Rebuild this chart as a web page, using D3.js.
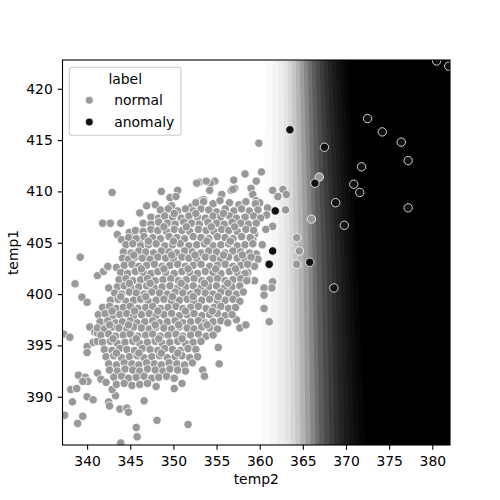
<!DOCTYPE html>
<html>
<head>
<meta charset="utf-8">
<script src="https://cdn.jsdelivr.net/npm/d3@7"></script>
<style>
body { margin: 0; background: #fff; }
svg text { font-family: "DejaVu Sans", sans-serif; fill: #000; }
</style>
</head>
<body>
<svg id="chart" width="500" height="500"></svg>
<script>
// points: [temp2, temp1]
const normalPoints = [
  // sparse, left and bottom
  [337.3,396.1],[338.0,395.8],[340.3,396.8],[340.9,396.3],[340.0,394.9],[340.7,395.3],[341.2,395.4],[340.0,394.3],
  [339.0,392.1],[339.8,391.9],[340.1,391.5],[339.5,391.5],[338.1,390.7],[338.8,390.8],[338.3,389.5],[340.0,390.0],
  [340.7,389.7],[337.4,388.2],[339.5,388.1],[338.9,387.4],[342.5,389.5],[342.6,389.1],[343.3,390.1],[343.8,388.8],
  [344.6,388.9],[344.8,388.5],[345.7,387.0],[345.8,386.1],[343.9,385.5],[346.6,389.6],[348.1,387.7],[351.7,387.3],
  [350.1,390.8],[351.0,391.3],[347.0,391.3],[348.0,391.0],[353.4,392.6],[353.6,392.0],[355.3,393.2],[355.2,394.8],
  [354.6,396.4],[358.3,397.0],[357.7,396.7],[341.2,392.3],[341.6,391.7],[342.2,391.4],[342.9,390.7],[341.2,396.2],
  [341.8,397.0],
  // sparse, upper left
  [342.9,409.9],[348.6,410.0],[350.5,410.1],[349.6,409.4],[350.3,409.5],[346.1,407.9],[346.9,408.6],[347.9,408.7],
  [341.8,406.9],[342.7,406.9],[343.9,406.9],[339.2,403.6],[341.2,401.8],[341.9,402.2],[342.4,402.6],[343.4,402.6],
  [338.6,401.0],[342.5,400.6],[339.4,399.7],[340.0,399.2],[343.5,405.8],[344.0,405.3],[344.9,406.0],[345.4,405.5],
  [346.1,405.0],[344.6,403.5],[342.4,402.7],
  // sparse, top and right
  [359.9,414.7],[358.3,411.7],[360.2,411.9],[359.6,411.0],[357.0,411.1],[354.8,411.0],[354.3,410.8],[354.2,410.1],
  [353.0,410.9],[349.8,408.6],[352.1,408.5],[353.2,409.1],[353.5,409.2],[355.6,409.7],[356.7,410.1],[357.1,410.3],
  [359.0,410.3],[359.2,409.7],[359.6,409.1],[360.0,408.9],[361.5,410.1],[362.7,410.2],[363.1,409.7],[362.1,409.5],
  [360.9,408.4],[360.8,407.7],[363.0,408.2],[359.8,407.5],[361.5,406.6],[360.7,406.3],[359.4,405.8],[359.2,405.3],
  [364.3,405.5],[364.6,404.2],[364.3,402.9],[360.3,404.8],[359.6,403.9],[359.8,403.4],[358.8,402.9],[359.4,402.7],
  [358.6,402.1],[359.4,401.3],[361.5,401.2],[361.4,400.6],[360.5,400.6],[360.5,399.9],[360.5,398.6],[361.1,397.3],
  [358.4,397.0],[357.3,397.5],[352.7,410.8],[353.8,411.0],[356.9,410.2],[358.6,401.4],[366.9,411.4],[366.0,407.3],
  // dense core
  [352.6,408.9],[353.5,409.0],[354.6,408.8],[355.4,409.1],[356.5,408.9],[357.6,408.7],[358.4,409.0],[359.5,408.8],
  [348.5,408.2],[349.4,408.3],[350.5,408.1],[351.4,408.3],[352.3,408.1],[353.2,408.3],[354.1,408.2],[355.0,408.0],
  [356.0,408.3],[357.0,408.1],[357.9,408.3],[358.8,408.1],[359.8,408.2],
  [347.4,407.5],[348.3,407.4],[349.0,407.6],[349.9,407.5],[350.9,407.4],[351.8,407.6],[352.8,407.5],[353.7,407.4],
  [354.6,407.6],[355.5,407.5],[356.5,407.6],[357.3,407.4],[358.3,407.5],[359.3,407.6],[360.1,407.4],
  [346.5,406.9],[347.4,406.8],[348.3,407.0],[349.3,406.9],[350.2,406.8],[351.2,407.0],[352.1,406.9],[353.0,406.8],
  [354.0,407.0],[355.0,406.9],[355.9,406.8],[356.8,407.0],[357.8,406.9],[358.7,406.8],[359.6,406.9],
  [345.6,406.2],[346.5,406.1],[347.4,406.3],[348.2,406.2],[349.2,406.1],[350.1,406.3],[351.0,406.2],[351.9,406.1],
  [352.9,406.3],[353.8,406.2],[354.7,406.1],[355.6,406.3],[356.4,406.2],[357.4,406.1],[358.4,406.3],[359.3,406.2],
  [344.8,405.5],[345.7,405.4],[346.6,405.6],[347.6,405.5],[348.5,405.4],[349.5,405.6],[350.4,405.5],[351.3,405.4],
  [352.3,405.6],[353.2,405.5],[354.1,405.4],[355.1,405.6],[356.0,405.5],[356.9,405.4],[357.9,405.6],[358.9,405.5],
  [344.5,404.8],[345.3,404.9],[346.2,404.7],[347.1,404.8],[348.0,404.9],[349.0,404.7],[349.9,404.8],[350.8,404.9],
  [351.8,404.7],[352.7,404.8],[353.6,404.9],[354.6,404.7],[355.5,404.8],[356.4,404.9],[357.4,404.7],[358.3,404.8],
  [359.2,404.9],
  [344.2,404.1],[345.1,404.0],[346.0,404.2],[346.8,404.1],[347.7,404.0],[348.6,404.2],[349.5,404.1],[350.4,404.0],
  [351.3,404.2],[352.2,404.1],[353.2,404.0],[354.1,404.2],[355.0,404.1],[356.0,404.0],[356.9,404.2],[357.8,404.1],
  [358.8,404.0],
  [344.1,403.5],[344.8,403.4],[345.6,403.6],[346.4,403.5],[347.3,403.4],[348.2,403.6],[349.1,403.5],[350.0,403.4],
  [351.0,403.6],[351.8,403.5],[352.7,403.4],[353.7,403.6],[354.6,403.5],[355.5,403.4],[356.4,403.6],[357.4,403.5],
  [358.3,403.4],[359.0,403.6],
  [344.3,402.8],[345.2,402.9],[346.0,402.7],[346.9,402.8],[347.8,402.9],[348.7,402.7],[349.6,402.8],[350.5,402.9],
  [351.4,402.7],[352.3,402.8],[353.2,402.9],[354.2,402.7],[355.1,402.8],[356.0,402.9],[356.9,402.7],[357.8,402.8],
  [358.6,402.9],
  [343.9,402.1],[344.7,402.0],[345.6,402.2],[346.5,402.1],[347.4,402.0],[348.2,402.2],[349.1,402.1],[350.1,402.0],
  [351.0,402.2],[351.9,402.1],[352.8,402.0],[353.7,402.2],[354.6,402.1],[355.5,402.0],[356.5,402.2],[357.4,402.1],
  [358.3,402.0],
  [343.7,401.4],[344.5,401.5],[345.3,401.3],[346.2,401.4],[347.0,401.5],[347.9,401.3],[348.8,401.4],[349.7,401.5],
  [350.6,401.3],[351.5,401.4],[352.4,401.5],[353.3,401.3],[354.2,401.4],[355.1,401.5],[356.0,401.3],[356.9,401.4],
  [357.8,401.5],[358.5,401.3],
  [343.5,400.7],[344.3,400.8],[345.1,400.6],[346.0,400.7],[346.9,400.8],[347.8,400.6],[348.7,400.7],[349.6,400.8],
  [350.5,400.6],[351.4,400.7],[352.3,400.8],[353.2,400.6],[354.1,400.7],[355.0,400.8],[355.9,400.6],[356.8,400.7],
  [357.7,400.8],
  [343.2,400.1],[344.0,400.0],[344.9,400.2],[345.7,400.1],[346.6,400.0],[347.5,400.2],[348.4,400.1],[349.3,400.0],
  [350.2,400.2],[351.1,400.1],[352.0,400.0],[352.8,400.2],[353.7,400.1],[354.6,400.0],[355.5,400.2],[356.4,400.1],
  [357.3,400.0],[358.1,400.2],
  [342.7,399.4],[343.6,399.5],[344.5,399.3],[345.4,399.4],[346.2,399.5],[347.1,399.3],[348.0,399.4],[348.9,399.5],
  [349.8,399.3],[350.7,399.4],[351.6,399.5],[352.4,399.3],[353.3,399.4],[354.2,399.5],[355.1,399.3],[356.0,399.4],
  [356.9,399.5],[357.7,399.3],
  [341.8,398.7],[342.6,398.8],[343.4,398.6],[344.2,398.7],[345.0,398.8],[345.9,398.6],[346.8,398.7],[347.6,398.8],
  [348.5,398.6],[349.4,398.7],[350.3,398.8],[351.1,398.6],[352.0,398.7],[352.9,398.8],[353.8,398.6],[354.7,398.7],
  [355.5,398.8],[356.4,398.6],[357.2,398.7],
  [341.3,398.0],[342.1,398.1],[343.0,397.9],[343.8,398.0],[344.6,398.1],[345.4,397.9],[346.3,398.0],[347.2,398.1],
  [348.0,397.9],[348.9,398.0],[349.8,398.1],[350.7,397.9],[351.6,398.0],[352.4,398.1],[353.3,397.9],[354.2,398.0],
  [355.1,398.1],[356.0,397.9],[356.8,398.0],
  [341.5,397.3],[342.4,397.4],[343.3,397.2],[344.1,397.3],[345.0,397.4],[345.8,397.2],[346.7,397.3],[347.6,397.4],
  [348.4,397.2],[349.3,397.3],[350.2,397.4],[351.1,397.2],[352.0,397.3],[352.9,397.4],[353.7,397.2],[354.6,397.3],
  [355.5,397.4],[356.3,397.2],
  [341.2,396.7],[342.0,396.6],[342.9,396.8],[343.7,396.7],[344.6,396.6],[345.4,396.8],[346.3,396.7],[347.2,396.6],
  [348.0,396.8],[348.9,396.7],[349.8,396.6],[350.7,396.8],[351.6,396.7],[352.4,396.6],[353.3,396.8],[354.2,396.7],
  [355.1,396.6],
  [341.6,396.0],[342.5,396.1],[343.3,395.9],[344.2,396.0],[345.0,396.1],[345.9,395.9],[346.8,396.0],[347.6,396.1],
  [348.5,395.9],[349.4,396.0],[350.3,396.1],[351.1,395.9],[352.0,396.0],[352.9,396.1],[353.8,395.9],[354.6,396.0],
  [341.8,395.3],[342.7,395.4],[343.5,395.2],[344.4,395.3],[345.3,395.4],[346.1,395.2],[347.0,395.3],[347.9,395.4],
  [348.7,395.2],[349.6,395.3],[350.5,395.4],[351.4,395.2],[352.3,395.3],[353.2,395.4],
  [342.0,394.6],[342.9,394.5],[343.8,394.7],[344.6,394.6],[345.5,394.5],[346.4,394.7],[347.3,394.6],[348.2,394.5],
  [349.0,394.7],[349.9,394.6],[350.8,394.5],[351.7,394.7],[352.6,394.6],
  [342.2,393.9],[343.1,394.0],[344.0,393.8],[344.9,393.9],[345.8,394.0],[346.6,393.8],[347.5,393.9],[348.4,394.0],
  [349.3,393.8],[350.2,393.9],[351.0,394.0],[351.9,393.8],[352.8,393.9],
  [342.5,393.2],[343.4,393.1],[344.3,393.3],[345.2,393.2],[346.0,393.1],[346.9,393.3],[347.8,393.2],[348.6,393.1],
  [349.5,393.3],[350.4,393.2],[351.3,393.1],[352.2,393.3],
  [342.6,392.6],[343.5,392.5],[344.4,392.7],[345.3,392.6],[346.1,392.5],[347.0,392.7],[347.9,392.6],[348.8,392.5],
  [349.6,392.7],[350.5,392.6],[351.4,392.5],
  [343.1,391.9],[344.0,392.0],[344.8,391.8],[345.7,391.9],[346.6,392.0],[347.5,391.8],[348.3,391.9],[349.2,392.0],
  [350.1,391.8],
  [343.4,391.2],[344.3,391.3],[345.2,391.1],[346.1,391.2],[347.0,391.3],
  // overlapping points inside the core
  [350.1,407.85],[352.6,407.85],[355.8,407.85],
  [348.9,406.55],[351.5,406.55],[354.4,406.55],[357.1,406.55],
  [347.1,405.15],[350.0,405.15],[353.9,405.15],[356.6,405.15],
  [345.4,403.8],[349.8,403.8],[352.5,403.8],[355.8,403.8],[358.0,403.8],
  [346.3,402.45],[348.9,402.45],[351.7,402.45],[354.9,402.45],[357.2,402.45],
  [344.9,401.05],[347.3,401.05],[350.9,401.05],[353.6,401.05],[356.3,401.05],
  [343.9,399.75],[346.8,399.75],[349.9,399.75],[352.3,399.75],[355.2,399.75],
  [342.9,398.35],[345.5,398.35],[348.2,398.35],[351.4,398.35],[354.5,398.35],
  [342.6,397.0],[344.8,397.0],[347.9,397.0],[350.6,397.0],[353.9,397.0],
  [343.0,395.65],[345.7,395.65],[348.3,395.65],[351.0,395.65],
  [343.4,394.25],[346.0,394.25],[348.6,394.25],[350.5,394.25]
];

const anomalyPoints = [
  [380.5,422.7],[381.9,422.2],[372.5,417.1],[374.2,415.8],[376.4,414.8],[377.2,413.0],[367.5,414.3],[371.8,412.4],
  [370.9,410.7],[371.6,409.9],[368.8,408.9],[377.2,408.4],[369.8,406.7],[366.4,410.8],[363.5,416.0],[361.8,408.1],
  [361.5,404.2],[361.1,402.9],[365.8,403.1],[368.6,400.6]
];

// decision surface: temp2 positions where the grey level changes, read at three temp1 rows
const bgRows = [422.8, 403.9, 385.3];
const bgEdges = [
  [360.68, 361.49, 362.19, 362.77, 363.23, 363.70, 364.16, 364.62, 365.08, 365.55,
   366.01, 366.47, 366.93, 367.40, 367.86, 368.32, 368.78, 369.25, 369.71, 370.17],
  [360.45, 361.38, 362.19, 362.88, 363.46, 363.93, 364.50, 365.08, 365.66, 366.12,
   366.59, 367.17, 367.75, 368.32, 368.78, 369.36, 369.83, 370.29, 370.75, 371.22],
  [360.22, 361.15, 362.07, 362.88, 363.58, 364.16, 364.73, 365.31, 365.89, 366.47,
   366.93, 367.51, 368.09, 368.67, 369.25, 369.83, 370.40, 370.98, 371.56, 372.26]
];
const bgGrays = [250, 244, 237, 228, 215, 200, 180, 158, 135, 112, 92, 75, 60, 47, 36, 27, 19, 12, 6, 0];

const xTicks = [340, 345, 350, 355, 360, 365, 370, 375, 380];
const yTicks = [390, 395, 400, 405, 410, 415, 420];
const legendLabels = ["normal", "anomaly"];
const colors = { normal: "#999999", anomaly: "#111111" };

const svg = d3.select("#chart");
const plotLeft = 62.5, plotRight = 450, plotTop = 60, plotBottom = 445;
const fontSize = 13.9;

const x = d3.scaleLinear().domain([337.15, 382.05]).range([plotLeft, plotRight]);
const y = d3.scaleLinear().domain([385.3, 422.8]).range([plotBottom, plotTop]);

svg.append("defs").append("clipPath").attr("id", "clip")
  .append("rect")
  .attr("x", plotLeft).attr("y", plotTop)
  .attr("width", plotRight - plotLeft).attr("height", plotBottom - plotTop);

const plot = svg.append("g").attr("clip-path", "url(#clip)");

plot.append("rect")
  .attr("x", plotLeft).attr("y", plotTop)
  .attr("width", plotRight - plotLeft).attr("height", plotBottom - plotTop)
  .attr("fill", "#fff");

// each band runs from its edge to the right side, darker ones stacked on top
bgGrays.forEach((g, i) => {
  const edge = bgRows.map((r, j) => [x(bgEdges[j][i]), y(r)]);
  edge[0][1] -= 3;
  edge[edge.length - 1][1] += 3;
  const poly = edge.concat([[plotRight + 5, plotBottom + 3], [plotRight + 5, plotTop - 3]]);
  plot.append("path")
    .attr("d", "M" + poly.join("L") + "Z")
    .attr("fill", d3.rgb(g, g, g));
});

function drawPoints(data, color) {
  plot.append("g")
    .selectAll("circle")
    .data(data)
    .join("circle")
    .attr("cx", d => x(d[0]))
    .attr("cy", d => y(d[1]))
    .attr("r", 4.2)
    .attr("fill", color)
    .attr("stroke", "#fff")
    .attr("stroke-width", 0.8);
}
drawPoints(normalPoints, colors.normal);
drawPoints(anomalyPoints, colors.anomaly);

// axes
const xAxis = svg.append("g")
  .attr("transform", `translate(0,${plotBottom})`)
  .call(d3.axisBottom(x).tickValues(xTicks).tickSize(4.86).tickPadding(6));
const yAxis = svg.append("g")
  .attr("transform", `translate(${plotLeft},0)`)
  .call(d3.axisLeft(y).tickValues(yTicks).tickSize(4.86).tickPadding(4.86));

[xAxis, yAxis].forEach(a => {
  a.select(".domain").remove();
  a.selectAll("line").attr("stroke", "#000").attr("stroke-width", 1.1);
  a.selectAll("text")
    .attr("font-size", fontSize)
    .attr("font-family", "DejaVu Sans")
    .attr("fill", "#000");
});

svg.append("rect")
  .attr("x", plotLeft).attr("y", plotTop)
  .attr("width", plotRight - plotLeft).attr("height", plotBottom - plotTop)
  .attr("fill", "none")
  .attr("stroke", "#000")
  .attr("stroke-width", 1.1);

svg.append("text")
  .attr("x", (plotLeft + plotRight) / 2).attr("y", 484)
  .attr("text-anchor", "middle")
  .attr("font-size", fontSize)
  .text("temp2");

svg.append("text")
  .attr("transform", `translate(18.2,${(plotTop + plotBottom) / 2}) rotate(-90)`)
  .attr("text-anchor", "middle")
  .attr("font-size", fontSize)
  .text("temp1");

// legend
const legend = svg.append("g");
legend.append("rect")
  .attr("x", 69.3).attr("y", 67.3)
  .attr("width", 111.7).attr("height", 68)
  .attr("rx", 2.8)
  .attr("fill", "#fff").attr("fill-opacity", 0.8)
  .attr("stroke", "#cccccc").attr("stroke-width", 1.1);

legend.append("text")
  .attr("x", 125.2).attr("y", 84.3)
  .attr("text-anchor", "middle")
  .attr("font-size", fontSize)
  .text("label");

legendLabels.forEach((lab, i) => {
  const cy = 100.3 + i * 21.7;
  legend.append("circle")
    .attr("cx", 89.3).attr("cy", cy).attr("r", 4)
    .attr("fill", colors[lab])
    .attr("stroke", "#fff").attr("stroke-width", 0.8);
  legend.append("text")
    .attr("x", 114.3).attr("y", cy + 4.9)
    .attr("font-size", fontSize)
    .text(lab);
});
</script>
</body>
</html>
